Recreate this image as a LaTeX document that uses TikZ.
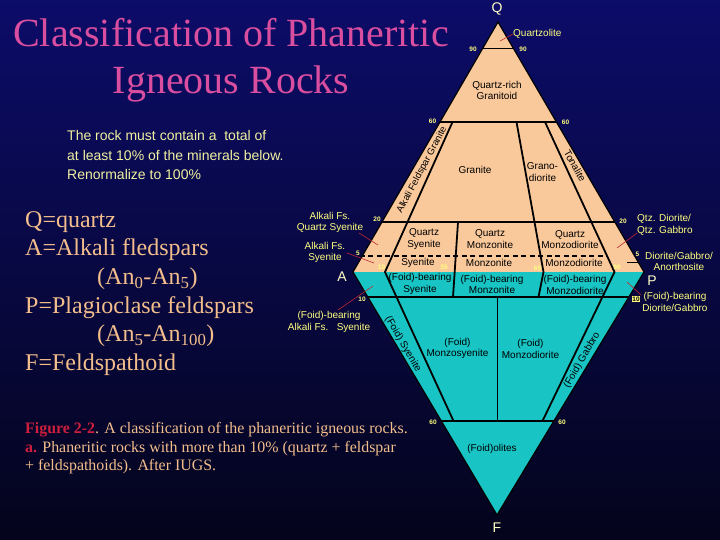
\documentclass[tikz,border=0pt]{standalone}
\usepackage{fontspec}
\setmainfont{Liberation Serif}
\setsansfont{Liberation Sans}
\definecolor{bgtop}{RGB}{12,12,105}
\definecolor{bgbot}{RGB}{4,4,28}
\definecolor{peach}{RGB}{250,201,155}
\definecolor{foidcyan}{RGB}{24,196,196}
\definecolor{titlepink}{RGB}{218,78,160}
\definecolor{legendpeach}{RGB}{243,190,140}
\definecolor{notey}{RGB}{240,240,160}
\definecolor{laby}{RGB}{255,255,128}
\definecolor{ptrred}{RGB}{190,40,50}
\definecolor{figred}{RGB}{205,30,60}
\definecolor{vtx}{RGB}{255,255,200}
\begin{document}
\begin{tikzpicture}[x=1pt,y=-1pt,
  field/.style={font=\sffamily\fontsize{10}{11.8}\selectfont, align=center, inner sep=0pt, text=black},
  ylab/.style={font=\sffamily\fontsize{10}{11.8}\selectfont, align=center, inner sep=0pt, text=laby},
  num/.style={font=\sffamily\bfseries\fontsize{6.5}{7}\selectfont, inner sep=0pt, text=laby},
  vlab/.style={font=\sffamily\fontsize{14}{16}\selectfont, inner sep=0pt, text=vtx},
  ptr/.style={draw=ptrred, line width=0.6pt},
  divline/.style={draw=black, line width=1.8pt},
  legend/.style={font=\fontsize{24}{28}\selectfont, text=legendpeach, anchor=base west, inner sep=0pt},
  note/.style={font=\sffamily\fontsize{14}{16}\selectfont, text=notey, anchor=base west, inner sep=0pt},
  capt/.style={font=\fontsize{15.9}{18}\selectfont, text=legendpeach, anchor=base west, inner sep=0pt},
  ttl/.style={font=\fontsize{40}{47}\selectfont, text=titlepink, anchor=base, inner sep=0pt}
]
\useasboundingbox (0,0) rectangle (720,540);
\shade[top color=bgtop, bottom color=bgbot] (0,0) rectangle (720,540);

% vertices
\coordinate (Q) at (498,22);
\coordinate (A) at (353,272);
\coordinate (P) at (644,272);
\coordinate (F) at (497,515);

\fill[peach] (Q)--(A)--(P)--cycle;
\fill[foidcyan] (A)--(F)--(P)--cycle;

% division lines
\coordinate (t10) at (452.5,122); \coordinate (b10) at (385,272); \coordinate (f10) at (453.5,421);
\coordinate (t35) at (458,222);   \coordinate (f35) at (453,297);
\coordinate (t65) at (516.5,122); \coordinate (b65) at (543.5,272); \coordinate (f65) at (538.5,297);
\coordinate (t90) at (545,122);   \coordinate (b90) at (614.5,272); \coordinate (f90) at (542.5,421);
\coordinate (t50) at (497.5,297); \coordinate (f50) at (497.5,421);
\begin{scope}
  \clip (Q)--(A)--(F)--(P)--cycle;
  \draw[divline] (300,48.5) -- (700,48.5);
  \draw[divline] (300,122) -- (700,122);
  \draw[divline] (300,222) -- (700,222);
  \draw[divline] (300,297) -- (700,297);
  \draw[divline] (300,421) -- (700,421);
  \draw[black, line width=1.1pt, dash pattern=on 5pt off 3.5pt] (300,256) -- (607,256);
  \draw[divline] (t10) -- (b10) -- (f10);
  \draw[divline] (t35) -- (f35);
  \draw[divline] (t65) -- (b65) -- (f65);
  \draw[divline] (t90) -- (b90) -- (f90);
  \draw[divline, line width=1.2pt] (t50) -- (f50);
\end{scope}
\draw[black, line width=1.2pt, line join=miter] (Q)--(A)--(F)--(P)--cycle;

% vertex letters
\node[vlab] (lQ) at (497,9) {Q};
\node[vlab] (lA) at (342,277) {A};
\node[vlab] (lP) at (652,281) {P};
\node[vlab] (lF) at (497,528) {F};

% numbers
\node[num] (n90a) at (473,49.5) {90};
\node[num] (n90b) at (523,49.5) {90};
\node[num] (n60a) at (432.5,121) {60};
\node[num] (n60b) at (565.5,122) {60};
\node[num] (n20a) at (377,219.5) {20};
\node[num] (n20b) at (623,221) {20};
\node[num] (n5a) at (358,253) {5};
\node[num] (n5b) at (637.5,254) {5};
\node[num] (n10a) at (381.5,267.5) {10};
\node[num] (n35) at (444,267.5) {35};
\node[num] (n65) at (537.5,268) {65};
\node[num] (n90c) at (617,267) {90};
\node[num] (n10b) at (362,299.5) {10};
\node[num, fill=laby, text=black, inner sep=0.4pt] (n10c) at (636,299) {10};
\node[num] (n60c) at (433,422.5) {60};
\node[num] (n60d) at (562,422.5) {60};

% field names
\node[field] (qrg) at (497,90.5) {Quartz-rich\\Granitoid};
\node[field] (gra) at (475,170) {Granite};
\node[field] (grd) at (542.5,172) {Grano-\\diorite};
\node[field, font=\sffamily\fontsize{9.5}{11}\selectfont, rotate=62] (afg) at (422,170) {Alkali Feldspar Granite};
\node[field, rotate=-61] (ton) at (575,166) {Tonalite};
\node[field] (qsy) at (424,239) {Quartz\\Syenite};
\node[field] (sye) at (418,263) {Syenite};
\node[field] (fbs) at (420,284) {(Foid)-bearing\\Syenite};
\node[field] (qmz) at (490,239) {Quartz\\Monzonite};
\node[field] (mzn) at (489,263) {Monzonite};
\node[field] (fbm) at (492,284.5) {(Foid)-bearing\\Monzonite};
\node[field] (qmd) at (570,239.5) {Quartz\\Monzodiorite};
\node[field] (mzd) at (574,263) {Monzodiorite};
\node[field] (fbd) at (575,285) {(Foid)-bearing\\Monzodiorite};
\node[field, rotate=-60] (fsy) at (403,344) {(Foid) Syenite};
\node[field] (fms) at (457.5,348.5) {(Foid)\\Monzosyenite};
\node[field] (fmd) at (530.5,349) {(Foid)\\Monzodiorite};
\node[field, rotate=60] (fga) at (582,360) {(Foid) Gabbro};
\node[field] (fol) at (492,449) {(Foid)olites};

% outside labels with pointers
\node[ylab, anchor=west] (qzl) at (513,34) {Quartzolite};
\coordinate (qzp) at (500,41);
\draw[ptr] (qzl.west) -- (qzp);

\node[ylab] (afqs) at (330,222.5) {Alkali Fs.\\Quartz Syenite};
\coordinate (afqsa) at (359,233); \coordinate (afqsb) at (378,245);
\draw[ptr] (afqsa) -- (afqsb);

\node[ylab] (afs) at (325,252.5) {Alkali Fs.\\Syenite};
\coordinate (afsa) at (347,253); \coordinate (afsb) at (374,263);
\draw[ptr] (afsa) -- (afsb);

\node[ylab] (fbafs) at (329,322) {(Foid)-bearing\\Alkali Fs.\ \ \ Syenite};
\coordinate (fbafsa) at (338,310); \coordinate (fbafsb) at (373,286);
\draw[ptr] (fbafsa) -- (fbafsb);

\node[ylab, align=left, anchor=west] (qdg) at (637,224.5) {Qtz. Diorite/\\Qtz. Gabbro};
\coordinate (qdga) at (637,233); \coordinate (qdgb) at (617,248);
\draw[ptr] (qdga) -- (qdgb);

\node[ylab] (dga) at (679,261.5) {Diorite/Gabbro/\\Anorthosite};
\coordinate (dgaa) at (627,262); \coordinate (dgab) at (639,262);
\draw[black, line width=1pt] (dgaa) -- (dgab);

\node[ylab] (fbdg) at (675,302) {(Foid)-bearing\\Diorite/Gabbro};
\coordinate (fbdga) at (627,282); \coordinate (fbdgb) at (641,295);
\draw[ptr] (fbdga) -- (fbdgb);

% title
\node[ttl] (t1) at (231,47) {Classification of Phaneritic};
\node[ttl] (t2) at (231,94) {Igneous Rocks};

% note
\node[note] (no1) at (67,141) {The rock must contain a\ \ total of};
\node[note] (no2) at (67,161) {at least 10\% of the minerals below.};
\node[note] (no3) at (67,180) {Renormalize to 100\%};

% legend
\node[legend] (lg1) at (25,227) {Q=quartz};
\node[legend] (lg2) at (25,255.7) {A=Alkali fledspars};
\node[legend] (lg3) at (97,284.4) {(An\textsubscript{0}-An\textsubscript{5})};
\node[legend] (lg4) at (25,313.1) {P=Plagioclase feldspars};
\node[legend] (lg5) at (97,341.8) {(An\textsubscript{5}-An\textsubscript{100})};
\node[legend] (lg6) at (25,370.5) {F=Feldspathoid};

% caption
\node[capt] (c1) at (25,433.3) {\textcolor{figred}{\textbf{Figure 2-2}}. A classification of the phaneritic igneous rocks.};
\node[capt] (c2) at (25,452) {\textcolor{figred}{\textbf{a.}} Phaneritic rocks with more than 10\% (quartz + feldspar};
\node[capt] (c3) at (25,470.7) {+ feldspathoids). After IUGS.};
\end{tikzpicture}
\end{document}
